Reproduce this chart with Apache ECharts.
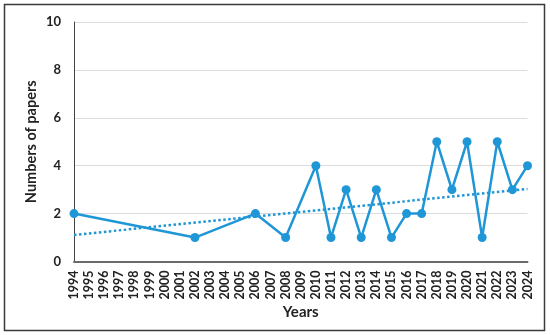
<!DOCTYPE html>
<html><head><meta charset="utf-8">
<script src="https://cdn.jsdelivr.net/npm/echarts@6/dist/echarts.min.js"></script>
<style>html,body{margin:0;padding:0;background:#fff}#c{width:550px;height:335px}</style>
</head><body><div id="c"></div>
<script>
var years = [];
for (var y = 1994; y <= 2024; y++) years.push(String(y));
var paperYears = ['1994','2002','2006','2008','2010','2011','2012','2013','2014','2015','2016','2017','2018','2019','2020','2021','2022','2023','2024'];
var paperCounts = [2,1,2,1,4,1,3,1,3,1,2,2,5,3,5,1,5,3,4];
var trendYears = ['1994','2024'];
var trendValues = [1.11, 3.03];
var yTicks = [0,2,4,6,8,10];

function toSeries(keys, vals){
  return years.map(function(yr){ var i = keys.indexOf(yr); return i >= 0 ? vals[i] : null; });
}
var font = 'Lato, "Open Sans", sans-serif';
var color = '#1f96d6';
var chart = echarts.init(document.getElementById('c'), null, {renderer:'canvas'});
chart.setOption({
  animation:false,
  backgroundColor:'#fff',
  grid:{left:74, right:22.5, top:22, bottom:73.5},
  xAxis:{
    type:'category', data:years, boundaryGap:false,
    name:'Years', nameLocation:'middle', nameGap:43, nameMoveOverlap:false,
    nameTextStyle:{fontFamily:font, fontWeight:'bold', fontSize:15, color:'#222'},
    axisLine:{lineStyle:{color:'#6a6a6a', width:2}},
    axisTick:{show:false},
    axisLabel:{interval:0, rotate:90, margin:9, fontFamily:font, fontWeight:'bold', fontSize:12.5, color:'#222'},
    splitLine:{show:false}
  },
  yAxis:{
    type:'value', min:yTicks[0], max:yTicks[yTicks.length-1], interval:2,
    name:'Numbers of papers', nameLocation:'middle', nameGap:35, nameMoveOverlap:false,
    nameTextStyle:{fontFamily:font, fontWeight:'bold', fontSize:14.5, color:'#222'},
    axisLine:{show:true, lineStyle:{color:'#444', width:1}},
    axisTick:{show:false},
    axisLabel:{margin:13, fontFamily:font, fontWeight:'bold', fontSize:13, color:'#222'},
    splitLine:{lineStyle:{color:'#dcdcdc', width:1.2}}
  },
  series:[
    {type:'line', data:toSeries(trendYears, trendValues), connectNulls:true, showSymbol:false, symbol:'none',
     lineStyle:{color:color, width:2.5, type:[2.5,2.5]}, z:2},
    {type:'line', data:toSeries(paperYears, paperCounts), connectNulls:true, symbol:'circle', symbolSize:9,
     itemStyle:{color:color}, lineStyle:{color:color, width:2.5}, z:3}
  ],
  graphic:[{type:'rect', shape:{x:4.5, y:4.5, width:540, height:326}, style:{fill:null, stroke:'#3a3a3a', lineWidth:1.5}, z:100}]
});
</script></body></html>
